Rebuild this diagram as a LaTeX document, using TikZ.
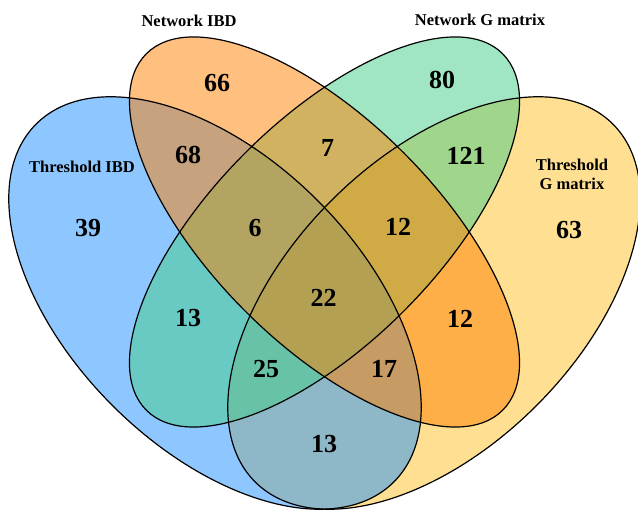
\documentclass[tikz,border=0pt]{standalone}
\usepackage{fontspec}
\setmainfont{Liberation Serif}
\begin{document}
\begin{tikzpicture}[x=1pt,y=1pt,
  setfill/.style={fill=#1,fill opacity=0.5,draw=none},
  setline/.style={draw=black,line width=1.2pt,fill=none},
  count/.style={anchor=base,font=\fontsize{26}{30}\selectfont\bfseries,inner sep=0pt},
  setname/.style={anchor=base,font=\fontsize{16.5}{19.5}\selectfont\bfseries,inner sep=0pt,align=center}]
\definecolor{cblue}{RGB}{30,144,255}
\definecolor{corange}{RGB}{255,127,0}
\definecolor{cgreen}{RGB}{67,205,135}
\definecolor{cyellow}{RGB}{255,193,37}
\useasboundingbox (0,0) rectangle (638,510);
\begin{scope}
\clip (0,0) rectangle (638,510);
% fills, in stacking order
\fill[setfill=cyellow, rotate around={45:(434,207)}] (434,207) ellipse (253pt and 145pt);
\fill[setfill=cblue, rotate around={-45:(215,207)}] (215,207) ellipse (253pt and 145pt);
\fill[setfill=cgreen, rotate around={45:(324.5,278)}] (324.5,278) ellipse (252pt and 112pt);
\fill[setfill=corange, rotate around={-45:(324.5,278)}] (324.5,278) ellipse (252pt and 112pt);
% outlines
\draw[setline, rotate around={45:(434,207)}] (434,207) ellipse (253pt and 145pt);
\draw[setline, rotate around={-45:(215,207)}] (215,207) ellipse (253pt and 145pt);
\draw[setline, rotate around={45:(324.5,278)}] (324.5,278) ellipse (252pt and 112pt);
\draw[setline, rotate around={-45:(324.5,278)}] (324.5,278) ellipse (252pt and 112pt);
\end{scope}
% set names
\node[setname] (nNetIBD) at (189,483) {Network IBD};
\node[setname] (nNetG) at (480,484) {Network G matrix};
\node[setname] (nThrIBD) at (82,337) {Threshold IBD};
\node[setname] (nThrG1) at (572,339) {Threshold};
\node[setname] (nThrG2) at (572,320) {G matrix};
% region counts
\node[count] (r66) at (217,418) {66};
\node[count] (r80) at (442,421) {80};
\node[count] (r68) at (188,346) {68};
\node[count] (r7) at (327.5,353) {7};
\node[count] (r121) at (466,345) {121};
\node[count] (r39) at (88,273) {39};
\node[count] (r6) at (255,273) {6};
\node[count] (r12a) at (398,274) {12};
\node[count] (r63) at (569,271) {63};
\node[count] (r13a) at (188,183) {13};
\node[count] (r22) at (323.5,203) {22};
\node[count] (r12b) at (460,182) {12};
\node[count] (r25) at (266,132) {25};
\node[count] (r17) at (384,132) {17};
\node[count] (r13b) at (324,57) {13};
\end{tikzpicture}
\end{document}
